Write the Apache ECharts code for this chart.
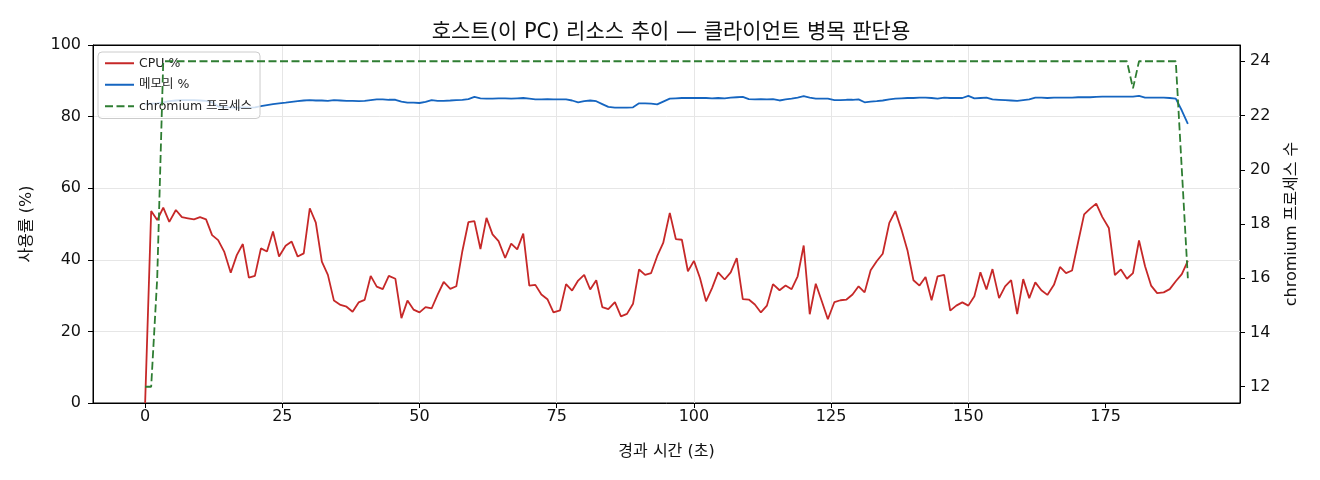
<!DOCTYPE html>
<html>
<head>
<meta charset="utf-8">
<script src="https://cdn.jsdelivr.net/npm/echarts@6/dist/echarts.min.js"></script>
<style>
  html, body { margin: 0; padding: 0; background: #fff; }
  #chart { width: 1320px; height: 480px; }
</style>
</head>
<body>
<div id="chart"></div>
<script>
// elapsed seconds of each sample
const times = [
  0, 1.1, 2.2, 3.3, 4.4, 5.6, 6.7, 7.8, 8.9,
  10.0, 11.1, 12.2, 13.3, 14.4, 15.6, 16.7, 17.8, 18.9,
  20.0, 21.1, 22.2, 23.3, 24.4, 25.6, 26.7, 27.8, 28.9,
  30.0, 31.1, 32.2, 33.3, 34.4, 35.6, 36.7, 37.8, 38.9,
  40.0, 41.1, 42.2, 43.3, 44.4, 45.6, 46.7, 47.8, 48.9,
  50.0, 51.1, 52.2, 53.3, 54.4, 55.6, 56.7, 57.8, 58.9,
  60.0, 61.1, 62.2, 63.3, 64.4, 65.6, 66.7, 67.8, 68.9,
  70.0, 71.1, 72.2, 73.3, 74.4, 75.6, 76.7, 77.8, 78.9,
  80.0, 81.1, 82.2, 83.3, 84.4, 85.6, 86.7, 87.8, 88.9,
  90.0, 91.1, 92.2, 93.3, 94.4, 95.6, 96.7, 97.8, 98.9,
  100.0, 101.1, 102.2, 103.3, 104.4, 105.6, 106.7, 107.8, 108.9,
  110.0, 111.1, 112.2, 113.3, 114.4, 115.6, 116.7, 117.8, 118.9,
  120.0, 121.1, 122.2, 123.3, 124.4, 125.6, 126.7, 127.8, 128.9,
  130.0, 131.1, 132.2, 133.3, 134.4, 135.6, 136.7, 137.8, 138.9,
  140.0, 141.1, 142.2, 143.3, 144.4, 145.6, 146.7, 147.8, 148.9,
  150.0, 151.1, 152.2, 153.3, 154.4, 155.6, 156.7, 157.8, 158.9,
  160.0, 161.1, 162.2, 163.3, 164.4, 165.6, 166.7, 167.8, 168.9,
  170.0, 171.1, 172.2, 173.3, 174.4, 175.6, 176.7, 177.8, 178.9,
  180.0, 181.1, 182.2, 183.3, 184.4, 185.6, 186.7, 187.8, 188.9,
  190.0
];

const cpuValues = [
  0, 53.6, 51.1, 54.6, 50.6, 53.9, 51.9, 51.6, 51.3,
  51.9, 51.3, 46.9, 45.5, 42.3, 36.4, 41.3, 44.4, 35.0,
  35.5, 43.2, 42.3, 47.9, 40.9, 43.9, 45.1, 40.9, 41.8,
  54.4, 50.4, 39.5, 35.8, 28.6, 27.4, 26.9, 25.5, 28.1,
  28.8, 35.5, 32.5, 31.8, 35.5, 34.7, 23.7, 28.6, 26.1,
  25.3, 26.8, 26.4, 30.3, 33.8, 31.9, 32.6, 42.4, 50.5,
  50.8, 43.0, 51.7, 47.1, 45.2, 40.5, 44.5, 42.9, 47.3,
  32.8, 33.0, 30.3, 29.0, 25.3, 25.9, 33.2, 31.4, 34.2,
  35.8, 31.7, 34.3, 26.8, 26.2, 28.2, 24.2, 24.9, 27.7,
  37.3, 35.8, 36.3, 41.0, 44.7, 53.1, 45.8, 45.6, 36.8,
  39.7, 34.9, 28.4, 32.1, 36.5, 34.5, 36.5, 40.5, 29.0,
  28.9, 27.5, 25.3, 27.2, 33.2, 31.5, 32.8, 31.8, 35.4,
  44.0, 24.8, 33.3, 28.4, 23.4, 28.2, 28.7, 28.9, 30.3,
  32.6, 30.9, 37.1, 39.6, 41.7, 50.3, 53.6, 48.5, 42.7,
  34.3, 32.8, 35.2, 28.7, 35.4, 35.8, 25.8, 27.2, 28.1,
  27.2, 29.8, 36.5, 31.7, 37.4, 29.3, 32.6, 34.3, 24.8,
  34.6, 29.3, 33.7, 31.5, 30.2, 33.0, 38.0, 36.3, 37.0,
  44.9, 52.7, 54.3, 55.7, 52.0, 48.9, 35.7, 37.3, 34.7,
  36.3, 45.4, 38.2, 32.8, 30.7, 30.9, 31.8, 34.0, 36.0,
  39.7
];

const memValues = [
  83.5, 83.6, 83.7, 84.0, 84.3, 84.5, 84.6, 84.6, 84.6,
  84.5, 84.4, 84.0, 82.8, 82.6, 82.6, 82.5, 82.6, 82.5,
  82.6, 82.9, 83.2, 83.5, 83.7, 83.9, 84.1, 84.3, 84.5,
  84.6, 84.5, 84.5, 84.4, 84.6, 84.5, 84.4, 84.4, 84.3,
  84.4, 84.6, 84.8, 84.8, 84.7, 84.7, 84.2, 83.9, 83.9,
  83.8, 84.1, 84.6, 84.4, 84.4, 84.5, 84.6, 84.7, 84.9,
  85.5, 85.1, 85.0, 85.0, 85.1, 85.1, 85.0, 85.1, 85.2,
  85.0, 84.8, 84.8, 84.9, 84.8, 84.8, 84.8, 84.5, 84.0,
  84.3, 84.5, 84.3, 83.5, 82.7, 82.5, 82.5, 82.5, 82.6,
  83.7, 83.7, 83.6, 83.4, 84.2, 85.0, 85.1, 85.2, 85.2,
  85.2, 85.2, 85.2, 85.1, 85.2, 85.1, 85.3, 85.4, 85.5,
  84.9, 84.8, 84.9, 84.8, 84.9, 84.5, 84.8, 85.0, 85.3,
  85.7, 85.3, 85.0, 85.0, 85.0, 84.6, 84.6, 84.7, 84.7,
  84.8, 84.0, 84.2, 84.3, 84.5, 84.8, 85.0, 85.1, 85.2,
  85.2, 85.3, 85.3, 85.2, 85.0, 85.3, 85.2, 85.2, 85.2,
  85.8, 85.1, 85.2, 85.3, 84.8, 84.7, 84.6, 84.5, 84.4,
  84.6, 84.8, 85.3, 85.3, 85.2, 85.3, 85.3, 85.3, 85.3,
  85.4, 85.4, 85.4, 85.5, 85.6, 85.6, 85.6, 85.6, 85.6,
  85.6, 85.8, 85.3, 85.3, 85.3, 85.3, 85.2, 85.0, 81.7,
  78.0
];

const chromiumCounts = [
  12, 12, 16, 24, 24, 24, 24, 24, 24,
  24, 24, 24, 24, 24, 24, 24, 24, 24,
  24, 24, 24, 24, 24, 24, 24, 24, 24,
  24, 24, 24, 24, 24, 24, 24, 24, 24,
  24, 24, 24, 24, 24, 24, 24, 24, 24,
  24, 24, 24, 24, 24, 24, 24, 24, 24,
  24, 24, 24, 24, 24, 24, 24, 24, 24,
  24, 24, 24, 24, 24, 24, 24, 24, 24,
  24, 24, 24, 24, 24, 24, 24, 24, 24,
  24, 24, 24, 24, 24, 24, 24, 24, 24,
  24, 24, 24, 24, 24, 24, 24, 24, 24,
  24, 24, 24, 24, 24, 24, 24, 24, 24,
  24, 24, 24, 24, 24, 24, 24, 24, 24,
  24, 24, 24, 24, 24, 24, 24, 24, 24,
  24, 24, 24, 24, 24, 24, 24, 24, 24,
  24, 24, 24, 24, 24, 24, 24, 24, 24,
  24, 24, 24, 24, 24, 24, 24, 24, 24,
  24, 24, 24, 24, 24, 24, 24, 24, 24,
  23, 24, 24, 24, 24, 24, 24, 24, 20,
  16
];

const xTicks = [0, 25, 50, 75, 100, 125, 150, 175];
const rightTicks = [12, 14, 16, 18, 20, 22, 24];

const FONT = '"DejaVu Sans", "Noto Sans CJK KR", sans-serif';
const zip = (xs, ys) => xs.map((x, i) => [x, ys[i]]);

const chart = echarts.init(document.getElementById('chart'), null, { renderer: 'canvas' });

chart.setOption({
  animation: false,
  backgroundColor: '#ffffff',
  textStyle: { fontFamily: FONT },
  title: {
    text: '호스트(이 PC) 리소스 추이 — 클라이언트 병목 판단용',
    left: 666,
    textAlign: 'center',
    top: 17,
    textStyle: { fontFamily: FONT, fontSize: 21, fontWeight: 'normal', color: '#111' }
  },
  legend: {
    orient: 'vertical',
    left: 98,
    top: 52,
    z: 4,
    padding: [5, 8, 6, 6],
    itemWidth: 29,
    itemHeight: 14,
    itemGap: 9,
    backgroundColor: 'rgba(255,255,255,0.8)',
    borderColor: '#cccccc',
    borderWidth: 1,
    borderRadius: 4,
    itemStyle: { opacity: 0, borderWidth: 0 },
    textStyle: { fontFamily: FONT, fontSize: 12.5, color: '#222' },
    data: ['CPU %', '메모리 %', 'chromium 프로세스']
  },
  grid: {
    left: 93, right: 80, top: 45, bottom: 77,
    show: true, borderColor: '#000', borderWidth: 1, backgroundColor: 'transparent'
  },
  xAxis: [
    {
      type: 'value',
      min: -9.5, max: 199.5,
      name: '경과 시간 (초)',
      nameLocation: 'middle',
      nameGap: 41,
      nameTextStyle: { fontFamily: FONT, fontSize: 16, color: '#111' },
      axisLine: { show: true, onZero: false, lineStyle: { color: '#000', width: 1 } },
      axisTick: { show: true, length: 5, lineStyle: { color: '#000' }, customValues: xTicks },
      axisLabel: { fontFamily: FONT, fontSize: 16, color: '#111', margin: 6, customValues: xTicks },
      splitLine: { show: true, showMinLine: false, showMaxLine: false, lineStyle: { color: '#e6e6e6', width: 1 } }
    },
    {
      type: 'value',
      position: 'top',
      min: -9.5, max: 199.5,
      z: 10,
      axisLine: { show: true, onZero: false, lineStyle: { color: '#000', width: 1 } },
      axisTick: { show: false },
      axisLabel: { show: false },
      splitLine: { show: false }
    }
  ],
  yAxis: [
    {
      type: 'value',
      position: 'left',
      min: 0, max: 100, interval: 20,
      name: '사용률 (%)',
      nameLocation: 'middle',
      nameGap: 58,
      nameRotate: 90,
      nameTextStyle: { fontFamily: FONT, fontSize: 16, color: '#111' },
      axisLine: { show: true, onZero: false, lineStyle: { color: '#000', width: 1 } },
      axisTick: { show: true, length: 5, lineStyle: { color: '#000' } },
      axisLabel: { fontFamily: FONT, fontSize: 16, color: '#111', margin: 12 },
      splitLine: { show: true, showMinLine: false, showMaxLine: false, lineStyle: { color: '#e6e6e6', width: 1 } }
    },
    {
      type: 'value',
      position: 'right',
      min: 11.4, max: 24.6,
      name: 'chromium 프로세스 수',
      nameLocation: 'middle',
      nameGap: 44,
      nameRotate: 90,
      nameTextStyle: { fontFamily: FONT, fontSize: 16, color: '#111' },
      axisLine: { show: true, onZero: false, lineStyle: { color: '#000', width: 1 } },
      axisTick: { show: true, length: 5, lineStyle: { color: '#000' }, customValues: rightTicks },
      axisLabel: { fontFamily: FONT, fontSize: 16, color: '#111', margin: 10, customValues: rightTicks },
      splitLine: { show: false }
    }
  ],
  series: [
    {
      name: 'CPU %',
      type: 'line',
      yAxisIndex: 0,
      z: 2,
      symbol: 'none',
      showSymbol: false,
      data: zip(times, cpuValues),
      lineStyle: { color: '#c62828', width: 1.8 },
      itemStyle: { color: '#c62828' }
    },
    {
      name: '메모리 %',
      type: 'line',
      yAxisIndex: 0,
      z: 2,
      symbol: 'none',
      showSymbol: false,
      data: zip(times, memValues),
      lineStyle: { color: '#1565c0', width: 1.8 },
      itemStyle: { color: '#1565c0' }
    },
    {
      name: 'chromium 프로세스',
      type: 'line',
      yAxisIndex: 1,
      z: 6,
      symbol: 'none',
      showSymbol: false,
      data: zip(times, chromiumCounts),
      lineStyle: { color: '#2e7d32', width: 1.8, type: [8, 3.5] },
      itemStyle: { color: '#2e7d32' }
    }
  ]
});
</script>
</body>
</html>
